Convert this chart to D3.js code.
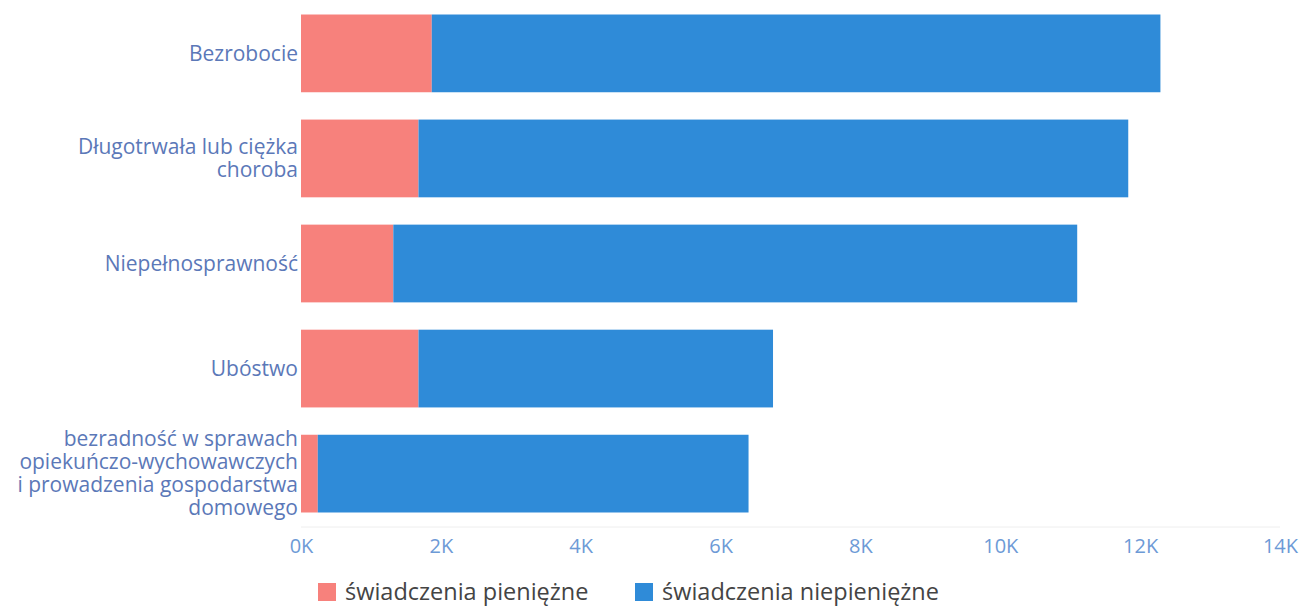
<!DOCTYPE html>
<html>
<head>
<meta charset="utf-8">
<script src="https://cdn.jsdelivr.net/npm/d3@7"></script>
<style>
  body { margin: 0; background: #fff; }
  svg text { font-family: "Open Sans", "Noto Sans", sans-serif; }
</style>
</head>
<body>
<div id="chart"></div>
<script>
// categories (top to bottom), lines of each label
var categories = ["Bezrobocie", "Długotrwała lub ciężka choroba", "Niepełnosprawność", "Ubóstwo", "bezradność"];
var labelLines = [
  ["Bezrobocie"],
  ["Długotrwała lub ciężka", "choroba"],
  ["Niepełnosprawność"],
  ["Ubóstwo"],
  ["bezradność w sprawach", "opiekuńczo-wychowawczych", "i prowadzenia gospodarstwa", "domowego"]
];
var pieniezne = [1870, 1680, 1320, 1680, 240];
var niepieniezne = [10420, 10150, 9780, 5070, 6160];
var seriesNames = ["świadczenia pieniężne", "świadczenia niepieniężne"];
var seriesColors = ["#f7817c", "#2f8bd8"];
var xTicks = [0, 2000, 4000, 6000, 8000, 10000, 12000, 14000];

var W = 1302, H = 610;
var margin = {top: 4, right: 22, bottom: 87, left: 301};
var width = W - margin.left - margin.right,
    height = H - margin.top - margin.bottom;

var svg = d3.select("#chart").append("svg")
    .attr("width", W)
    .attr("height", H)
  .append("g")
    .attr("transform", "translate(" + margin.left + "," + margin.top + ")");

var x = d3.scaleLinear().domain([0, 14000]).range([0, width]);
var y = d3.scaleBand().domain(categories).range([0, height]).paddingInner(0.26).paddingOuter(0.1);

// stacked data
var rows = categories.map(function(c, i){
  return {cat: c, pieniezne: pieniezne[i], niepieniezne: niepieniezne[i]};
});
var stack = d3.stack().keys(["pieniezne", "niepieniezne"]);
var layers = stack(rows);

// baseline
svg.append("line")
  .attr("x1", 0).attr("x2", width)
  .attr("y1", height + 4).attr("y2", height + 4)
  .attr("stroke", "#eeeeee").attr("stroke-width", 1);

svg.selectAll(".layer")
  .data(layers)
  .join("g")
  .attr("class", "layer")
  .attr("fill", function(d, i){ return seriesColors[i]; })
  .selectAll("rect")
  .data(function(d){ return d; })
  .join("rect")
  .attr("x", function(d){ return x(d[0]); })
  .attr("width", function(d){ return x(d[1]) - x(d[0]); })
  .attr("y", function(d){ return y(d.data.cat); })
  .attr("height", y.bandwidth());

// x axis
var xAxis = d3.axisBottom(x)
  .tickValues(xTicks)
  .tickFormat(function(d){ return (d / 1000) + "K"; })
  .tickSize(0)
  .tickPadding(16);

svg.append("g")
  .attr("class", "xaxis")
  .attr("transform", "translate(0," + height + ")")
  .call(xAxis)
  .call(function(g){ g.select(".domain").remove(); })
  .selectAll("text")
  .style("font-size", "20px")
  .attr("fill", "#6d9ad6");

// y labels
var lineH = 23;
var ylab = svg.append("g").attr("class", "ylabels");
categories.forEach(function(c, i){
  var lines = labelLines[i];
  var cy = y(c) + y.bandwidth() / 2;
  var t = ylab.append("text")
    .attr("text-anchor", "end")
    .attr("fill", "#5b78b8")
    .style("font-size", "21px");
  lines.forEach(function(l, j){
    t.append("tspan")
      .attr("x", -3)
      .attr("y", cy + (j - (lines.length - 1) / 2) * lineH)
      .attr("dy", "0.35em")
      .text(l);
  });
});

// legend
var legend = d3.select("svg").append("g")
  .attr("transform", "translate(318," + (H - 18) + ")");
var legX = [0, 317];
seriesNames.forEach(function(n, i){
  var g = legend.append("g").attr("transform", "translate(" + legX[i] + ",0)");
  g.append("rect")
    .attr("x", 0).attr("y", -9)
    .attr("width", 18).attr("height", 18)
    .attr("fill", seriesColors[i]);
  g.append("text")
    .attr("x", 27).attr("y", 0).attr("dy", "0.35em")
    .attr("fill", "#444")
    .style("font-size", "23.5px")
    .text(n);
});
</script>
</body>
</html>
